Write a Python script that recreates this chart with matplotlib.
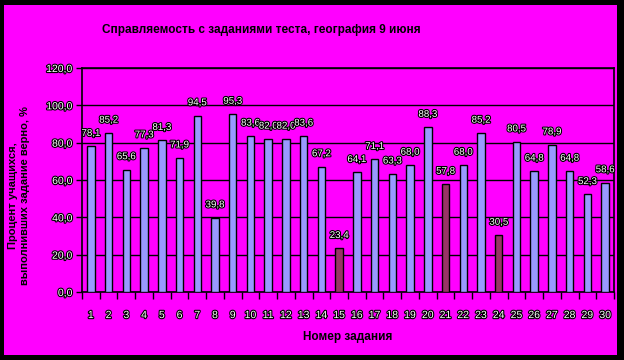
import matplotlib
matplotlib.use("Agg")
import matplotlib.pyplot as plt
import matplotlib.patheffects as pe
from matplotlib.patches import Rectangle
import numpy as np

# Данные диаграммы
tasks = list(range(1, 31))
percent = [78.1, 85.2, 65.6, 77.3, 81.3, 71.9, 94.5, 39.8, 95.3, 83.6,
           82.0, 82.0, 83.6, 67.2, 23.4, 64.1, 71.1, 63.3, 68.0, 88.3,
           57.8, 68.0, 85.2, 30.5, 80.5, 64.8, 78.9, 64.8, 52.3, 58.6]
weak_tasks = [15, 21, 24]
y_ticks = [0, 20, 40, 60, 80, 100, 120]

title = "Справляемость с заданиями теста, география 9 июня"
x_title = "Номер задания"
y_title = "Процент учащихся,\nвыполнивших задание верно, %"

light = "#9999FF"
dark = "#993366"
magenta = "#FF00FF"
outline = [pe.withStroke(linewidth=1.6, foreground="black")]

plt.rcParams['font.family'] = ['Liberation Sans', 'DejaVu Sans']

fig = plt.figure(figsize=(6.24, 3.6), dpi=100)
fig.patch.set_facecolor("black")
# магентовая подложка внутри чёрной рамки
fig.patches.append(Rectangle((4 / 624, 5 / 360), 613 / 624, 350 / 360,
                             transform=fig.transFigure, facecolor=magenta,
                             edgecolor="none", zorder=-5))

ax = fig.add_axes([82 / 624, 1 - 292 / 360, 532 / 624, 224 / 360])
ax.set_zorder(2)
ax.set_facecolor(magenta)

colors = [dark if t in weak_tasks else light for t in tasks]
x = np.arange(len(tasks))
ax.bar(x, percent, width=0.42, color=colors, edgecolor="black",
       linewidth=1, zorder=3)

for xi, v in zip(x, percent):
    ax.annotate(f"{v:.1f}".replace(".", ","), (xi, v), xytext=(0, 6),
                textcoords="offset points", ha="center", va="bottom",
                fontsize=7, color="white", path_effects=outline, zorder=4)

ax.set_xlim(-0.5, len(tasks) - 0.5)
ax.set_ylim(0, 120)
ax.set_yticks(y_ticks)
ax.set_yticklabels([f"{t:.1f}".replace(".", ",") for t in y_ticks],
                   fontsize=7.5, color="white", path_effects=outline)
ax.yaxis.grid(True, color="black", linewidth=1, zorder=1)
ax.set_axisbelow(True)

ax.set_xticks(x)
ax.set_xticklabels([str(t) for t in tasks], fontsize=7.5, color="white",
                   path_effects=outline)
ax.set_xticks(np.arange(-0.5, len(tasks)), minor=True)
ax.tick_params(axis="x", which="major", length=0, pad=13)
ax.tick_params(axis="x", which="minor", length=5, width=1, color="black",
               direction="out")
ax.tick_params(axis="y", length=4, width=1, color="black", direction="out", pad=3)

for side in ["left", "right", "bottom", "top"]:
    ax.spines[side].set_color("black")
    ax.spines[side].set_linewidth(1.2)

fig.text(261 / 624, 1 - 30 / 360, title, ha="center", va="center",
         fontsize=8.5, fontweight="bold", color="black")
ax.set_xlabel(x_title, fontsize=8.5, fontweight="bold", labelpad=8)
fig.text(19 / 624, 1 - 196 / 360, y_title, rotation=90, ha="center",
         va="center", multialignment="center", fontsize=8,
         fontweight="bold", color="black", linespacing=1.3)

fig.savefig("out.png", dpi=100, facecolor=fig.get_facecolor())
